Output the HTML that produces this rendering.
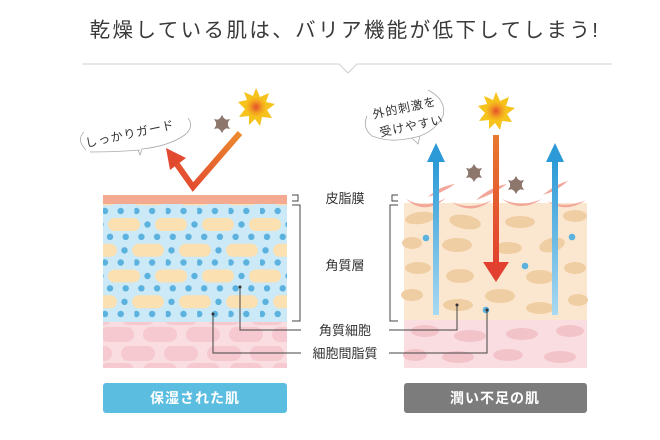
<!DOCTYPE html>
<html><head><meta charset="utf-8"><style>
html,body{margin:0;padding:0;background:#fff;}
svg{display:block;font-family:"Liberation Sans","Noto Sans CJK JP",sans-serif;}
</style></head><body>
<svg width="660" height="440" viewBox="0 0 660 440" xmlns="http://www.w3.org/2000/svg">
<defs>
<pattern id="dots" x="103" y="211" width="31.4" height="51.5" patternUnits="userSpaceOnUse">
<circle cx="2" cy="0" r="3.2" fill="#5cb2df"/><circle cx="17.7" cy="0" r="3.2" fill="#5cb2df"/>
<circle cx="7" cy="25.8" r="3.2" fill="#5cb2df"/><circle cx="22.7" cy="25.8" r="3.2" fill="#5cb2df"/>
<circle cx="2" cy="51.5" r="3.2" fill="#5cb2df"/><circle cx="17.7" cy="51.5" r="3.2" fill="#5cb2df"/>
</pattern>
<pattern id="pills" x="108" y="218" width="47" height="51.5" patternUnits="userSpaceOnUse">
<rect x="0" y="0" width="32" height="13" rx="6.5" fill="#fbe0b2"/>
<circle cx="39.5" cy="6.5" r="3.2" fill="#5cb2df"/>
<rect x="24" y="25.8" width="32" height="13" rx="6.5" fill="#fbe0b2"/>
<rect x="-23" y="25.8" width="32" height="13" rx="6.5" fill="#fbe0b2"/>
<circle cx="16.5" cy="32.3" r="3.2" fill="#5cb2df"/>
</pattern>
<pattern id="cells" x="100" y="327" width="43" height="36" patternUnits="userSpaceOnUse">
<rect x="0" y="0" width="34" height="15" rx="7.5" fill="#f6c8cf"/>
<rect x="21" y="19" width="34" height="15" rx="7.5" fill="#f6c8cf"/>
<rect x="-22" y="19" width="34" height="15" rx="7.5" fill="#f6c8cf"/>
</pattern>
<linearGradient id="blu" x1="0" y1="1" x2="0" y2="0"><stop offset="0" stop-color="#a9d9f2"/><stop offset="1" stop-color="#2b9ad6"/></linearGradient>
<linearGradient id="org" x1="0" y1="0" x2="0" y2="1"><stop offset="0" stop-color="#e8792f"/><stop offset="1" stop-color="#e2412f"/></linearGradient>
<linearGradient id="org2" x1="1" y1="0" x2="0" y2="1"><stop offset="0" stop-color="#ec8a2e"/><stop offset="1" stop-color="#e2452f"/></linearGradient>
<radialGradient id="sun"><stop offset="0" stop-color="#e4502c"/><stop offset="0.6" stop-color="#f3a021"/><stop offset="1" stop-color="#f6c21c"/></radialGradient>
</defs>

<text x="345" y="37" text-anchor="middle" font-size="20.5" fill="#3a3a3a" letter-spacing="2.4">乾燥している肌は、バリア機能が低下してしまう!</text>
<polyline points="82,64 339,64 348,73 357,64 612,64" fill="none" stroke="#cfcfcf" stroke-width="1"/>

<rect x="103" y="195" width="184" height="9" fill="#f4aa90"/>
<rect x="103" y="204" width="184" height="118" fill="#cbe9f6"/>
<rect x="103" y="204" width="184" height="118" fill="url(#dots)"/>
<rect x="103" y="204" width="184" height="112" fill="url(#pills)"/>
<rect x="103" y="322" width="184" height="46" fill="#fadde0"/>
<rect x="103" y="322" width="184" height="46" fill="url(#cells)"/>

<rect x="404" y="203" width="183" height="117" fill="#fbe7cf"/>
<g fill="#f2a79a">
<path d="M406,199 Q425,216 446,198 Q425,210 406,199Z"/>
<path d="M452,202 Q471,216 492,200 Q471,211 452,202Z"/>
<path d="M502,199 Q521,213 542,199 Q521,208 502,199Z"/>
<path d="M547,201 Q566,214 586,200 Q566,209 547,201Z"/>
<path d="M428,197 Q440,186 455,184 Q442,193 428,197Z"/>
<path d="M476,200 Q490,187 507,184 Q492,195 476,200Z"/>
<path d="M543,195 Q556,184 568,181 Q557,191 543,195Z"/>
</g>
<g fill="#f0cea4">
<ellipse cx="420" cy="218" rx="15" ry="6" transform="rotate(-8 420 218)"/>
<ellipse cx="465" cy="222" rx="16" ry="7" transform="rotate(10 465 222)"/>
<ellipse cx="520" cy="222" rx="15" ry="6"/>
<ellipse cx="575" cy="216" rx="12" ry="6"/>
<ellipse cx="412" cy="243" rx="10" ry="6"/>
<ellipse cx="457" cy="245" rx="15" ry="7"/>
<ellipse cx="508" cy="248" rx="14" ry="6"/>
<ellipse cx="552" cy="245" rx="13" ry="7" transform="rotate(-15 552 245)"/>
<ellipse cx="418" cy="268" rx="13" ry="6"/>
<ellipse cx="460" cy="276" rx="14" ry="7"/>
<ellipse cx="540" cy="277" rx="14" ry="7"/>
<ellipse cx="575" cy="268" rx="11" ry="6"/>
<ellipse cx="412" cy="295" rx="11" ry="6"/>
<ellipse cx="458" cy="305" rx="15" ry="6"/>
<ellipse cx="500" cy="296" rx="15" ry="7"/>
<ellipse cx="540" cy="308" rx="14" ry="6"/>
<ellipse cx="578" cy="300" rx="10" ry="6"/>
</g>
<rect x="404" y="320" width="183" height="48" fill="#fadde0"/>
<g fill="#f3c3ca">
<ellipse cx="425" cy="331" rx="14" ry="6"/>
<ellipse cx="470" cy="336" rx="16" ry="6"/>
<ellipse cx="522" cy="334" rx="16" ry="6"/>
<ellipse cx="570" cy="331" rx="14" ry="6"/>
<ellipse cx="415" cy="355" rx="12" ry="6"/>
<ellipse cx="458" cy="357" rx="16" ry="6"/>
<ellipse cx="508" cy="355" rx="15" ry="6"/>
<ellipse cx="560" cy="357" rx="16" ry="6"/>
</g>
<g fill="#5cb2df"><circle cx="426" cy="238" r="3.3"/><circle cx="525" cy="266" r="3.3"/><circle cx="572" cy="237" r="3.3"/><circle cx="486" cy="310" r="3.3"/></g>

<rect x="433" y="160" width="6" height="155" fill="url(#blu)"/>
<polygon points="436,143 427,162 445,162" fill="#2b9ad6"/>
<rect x="552" y="160" width="6" height="155" fill="url(#blu)"/>
<polygon points="555,143 546,162 564,162" fill="#2b9ad6"/>
<rect x="493" y="135" width="6" height="130" fill="url(#org)"/>
<polygon points="483,262 509,262 496,282" fill="#e2412f"/>

<polyline points="240,133 193,187 176,163" fill="none" stroke="url(#org2)" stroke-width="6"/>
<polygon points="166,148 186,158 170,170" fill="#e24a2f"/>

<g transform="translate(256,107)">
<polygon fill="#f6c21c" points="0,-19 4,-10 13,-14 10,-5 19,-3 11,3 16,11 6,10 4,19 -1,12 -7,18 -7,9 -17,10 -11,2 -18,-5 -9,-7 -12,-15 -3,-11"/>
<circle r="10" fill="url(#sun)"/>
</g>
<g transform="translate(496,111)">
<polygon fill="#f6c21c" points="0,-19 4,-10 13,-14 10,-5 19,-3 11,3 16,11 6,10 4,19 -1,12 -7,18 -7,9 -17,10 -11,2 -18,-5 -9,-7 -12,-15 -3,-11"/>
<circle r="10" fill="url(#sun)"/>
</g>
<g fill="#8d776d">
<g transform="translate(222,124)"><circle r="6"/><polygon points="0,-9 3,-4 8,-5 5,0 8,5 3,4 0,9 -3,4 -8,5 -5,0 -8,-5 -3,-4"/></g>
<g transform="translate(474,173)"><circle r="6"/><polygon points="0,-9 3,-4 8,-5 5,0 8,5 3,4 0,9 -3,4 -8,5 -5,0 -8,-5 -3,-4"/></g>
<g transform="translate(516,185)"><circle r="6"/><polygon points="0,-9 3,-4 8,-5 5,0 8,5 3,4 0,9 -3,4 -8,5 -5,0 -8,-5 -3,-4"/></g>
</g>

<path d="M86,150 Q76,140 84,132 M140,150 Q115,152 90,152 M188,118 Q194,126 186,134 Q170,146 142,149 L140,155 L138,150" fill="none" stroke="#aaa" stroke-width="0.8"/>
<text x="130" y="138" text-anchor="middle" font-size="12" fill="#333" transform="rotate(-12 130 134)" letter-spacing="1">しっかりガード</text>
<path d="M372,136 Q362,128 367,116 M428,90 Q447,100 443,116 Q436,130 420,136 M420,136 Q410,139 398,140 Q385,141 372,136 M420,136 L418,144 L412,138" fill="none" stroke="#aaa" stroke-width="0.8"/>
<text x="405" y="112" text-anchor="middle" font-size="12" fill="#333" transform="rotate(-12 405 110)" letter-spacing="1">外的刺激を</text>
<text x="412" y="130" text-anchor="middle" font-size="12" fill="#333" transform="rotate(-12 412 128)" letter-spacing="1">受けやすい</text>

<g fill="none" stroke="#444" stroke-width="1">
<polyline points="292,195 298,195 298,201 292,201"/>
<polyline points="292,205 300,205 300,321 292,321"/>
<polyline points="398,195 392,195 392,201 398,201"/>
<polyline points="398,205 390,205 390,321 398,321"/>
<polyline points="240,287 240,330 301,330"/>
<polyline points="213,314 213,353 301,353"/>
<polyline points="389,330 457,330 457,305"/>
<polyline points="389,353 487,353 487,310"/>
</g>
<g fill="#333"><circle cx="240" cy="287" r="1.5"/><circle cx="213" cy="314" r="1.5"/><circle cx="457" cy="305" r="1.5"/><circle cx="487" cy="310" r="1.5"/></g>
<g font-size="13" fill="#333" text-anchor="middle">
<text x="345" y="203">皮脂膜</text>
<text x="345" y="270">角質層</text>
<text x="345" y="335">角質細胞</text>
<text x="345" y="358">細胞間脂質</text>
</g>

<rect x="103" y="383" width="184" height="30" rx="3" fill="#5bbde0"/>
<text x="195" y="403" text-anchor="middle" font-size="14" font-weight="bold" fill="#fff" letter-spacing="1">保湿された肌</text>
<rect x="404" y="383" width="183" height="30" rx="3" fill="#7c7c7c"/>
<text x="495" y="403" text-anchor="middle" font-size="14" font-weight="bold" fill="#fff" letter-spacing="1">潤い不足の肌</text>
</svg>
</body></html>
